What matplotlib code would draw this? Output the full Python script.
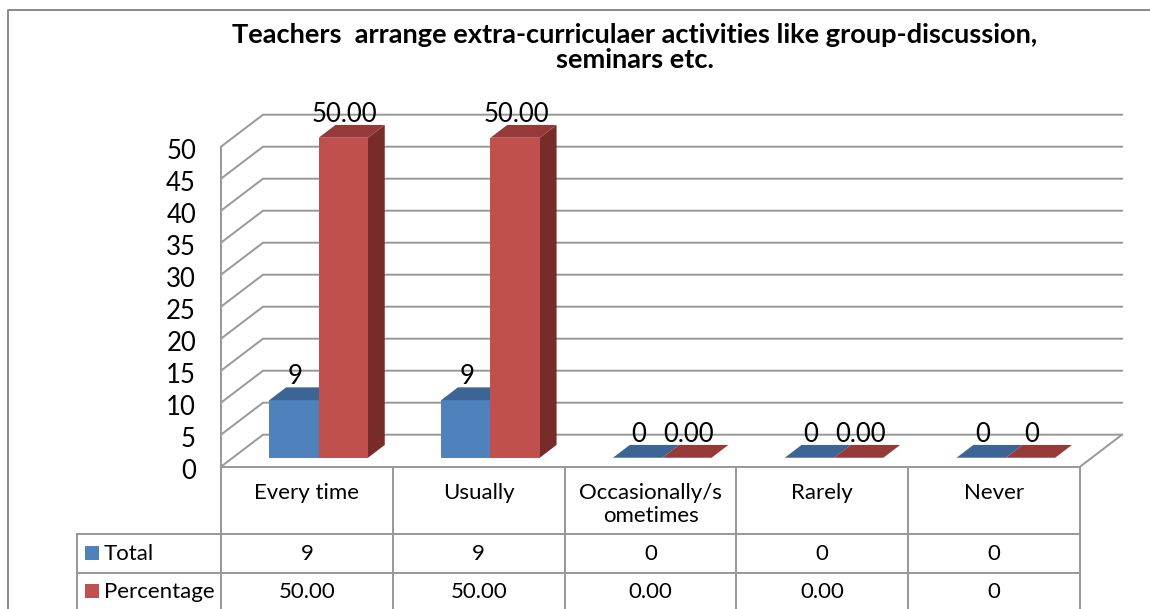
import matplotlib
matplotlib.use('Agg')
import matplotlib.pyplot as plt
from matplotlib.patches import Polygon, Rectangle
from matplotlib.transforms import ScaledTranslation

plt.rcParams['font.family'] = ['Lato', 'DejaVu Sans']

title = 'Teachers  arrange extra-curriculaer activities like group-discussion,\nseminars etc.'
categories = ['Every time', 'Usually', 'Occasionally/s\nometimes', 'Rarely', 'Never']
total = [9, 9, 0, 0, 0]
percentage = [50, 50, 0, 0, 0]
total_labels = ['9', '9', '0', '0', '0']
percentage_labels = ['50.00', '50.00', '0.00', '0.00', '0']
series_names = ['Total', 'Percentage']
y_ticks = list(range(0, 55, 5))

W, H = 1150, 609
LEFT, RIGHT, FLOOR, TOP = 221, 1080, 466.7, 146.7   # front plane of the chart, pixels
CW = (RIGHT - LEFT) / len(categories)
GRID = '#989898'
LW = 1.4

# fake 3d: depth shifts a point right and up
DX, DY = 42 / CW, 5
BAR_W = 0.287
Z0, Z1 = 0.28, 0.68


def pr(x, v, z):
    return x + z * DX, v + z * DY


def bar3d(ax, x, v, front, top, side):
    a, b = x, x + BAR_W
    ax.add_patch(Polygon([pr(b, 0, Z0), pr(b, 0, Z1), pr(b, v, Z1), pr(b, v, Z0)], fc=side, ec='none', clip_on=False, zorder=3))
    ax.add_patch(Polygon([pr(a, 0, Z0), pr(b, 0, Z0), pr(b, v, Z0), pr(a, v, Z0)], fc=front, ec='none', clip_on=False, zorder=3))
    ax.add_patch(Polygon([pr(a, v, Z0), pr(b, v, Z0), pr(b, v, Z1), pr(a, v, Z1)], fc=top, ec='none', clip_on=False, zorder=3))


fig = plt.figure(figsize=(W / 100, H / 100), dpi=100)

# overlay in pixels for frame, title and the data table
tb = fig.add_axes([0, 0, 1, 1])
tb.set_xlim(0, W)
tb.set_ylim(H, 0)
tb.axis('off')

ax = fig.add_axes([LEFT / W, 1 - FLOOR / H, (RIGHT - LEFT) / W, (FLOOR - TOP) / H])
ax.patch.set_alpha(0)
ax.set_xlim(0, len(categories))
ax.set_ylim(0, 50)
ax.set_yticks(y_ticks)
ax.set_xticks([])
ax.tick_params(axis='y', length=0, pad=18, labelsize=18.5, labelcolor='black')
down = ScaledTranslation(0, -2 / 72, fig.dpi_scale_trans)
for lab in ax.get_yticklabels():
    lab.set_transform(lab.get_transform() + down)
for s in ['top', 'right']:
    ax.spines[s].set_visible(False)
for s in ['left', 'bottom']:
    ax.spines[s].set_color(GRID)
    ax.spines[s].set_linewidth(LW)

# walls
for v in y_ticks:
    xs, ys = zip(pr(0, v, 0), pr(0, v, 1), pr(len(categories), v, 1))
    ax.plot(xs, ys, color=GRID, lw=LW, clip_on=False, zorder=1, solid_joinstyle='miter')
xs, ys = zip(pr(len(categories), 0, 0), pr(len(categories), 0, 1))
ax.plot(xs, ys, color=GRID, lw=LW, clip_on=False, zorder=1)

for i in range(len(categories)):
    start = i + 0.5 - BAR_W
    bar3d(ax, start, total[i], '#4F81BD', '#3C6494', '#2F4F75')
    bar3d(ax, i + 0.5, percentage[i], '#C0504D', '#953A38', '#772C2A')
    ax.annotate(total_labels[i], pr(i + 0.5 - BAR_W / 2, total[i], Z0), xytext=(1, 17), textcoords='offset points',
                ha='center', va='center', fontsize=18.5, zorder=5, annotation_clip=False)
    ax.annotate(percentage_labels[i], pr(i + 0.5 + BAR_W / 2, percentage[i], Z0), xytext=(1, 17), textcoords='offset points',
                ha='center', va='center', fontsize=18.5, zorder=5, annotation_clip=False)

# outer frame
tb.plot([7.5, 7.5, W], [H, 10, 10], color='#8a8a8a', lw=LW)
tb.text(635, 47.5, title, ha='center', va='center', fontsize=19.6, fontweight='bold', linespacing=1.05)

# data table
ROW1, ROW2 = 534, 572.7
tb.plot([77, RIGHT], [ROW1, ROW1], color=GRID, lw=LW)
tb.plot([77, RIGHT], [ROW2, ROW2], color=GRID, lw=LW)
tb.plot([77, 77], [ROW1, H], color=GRID, lw=LW)
for i in range(len(categories) + 1):
    tb.plot([LEFT + i * CW] * 2, [FLOOR, H], color=GRID, lw=LW)
for i, cat in enumerate(categories):
    cx = LEFT + (i + 0.5) * CW
    tb.text(cx, 483, cat, ha='center', va='top', fontsize=16, linespacing=1.2)
    tb.text(cx, 554, total_labels[i], ha='center', va='center', fontsize=16)
    tb.text(cx, 592.5, percentage_labels[i], ha='center', va='center', fontsize=16)
for name, col, y in zip(series_names, ['#4F81BD', '#C0504D'], [553, 591]):
    tb.add_patch(Rectangle((85, y - 7), 14, 14, fc=col, ec='none'))
    tb.text(104, y + 1, name, ha='left', va='center', fontsize=16)

fig.savefig('out.png', dpi=100)
